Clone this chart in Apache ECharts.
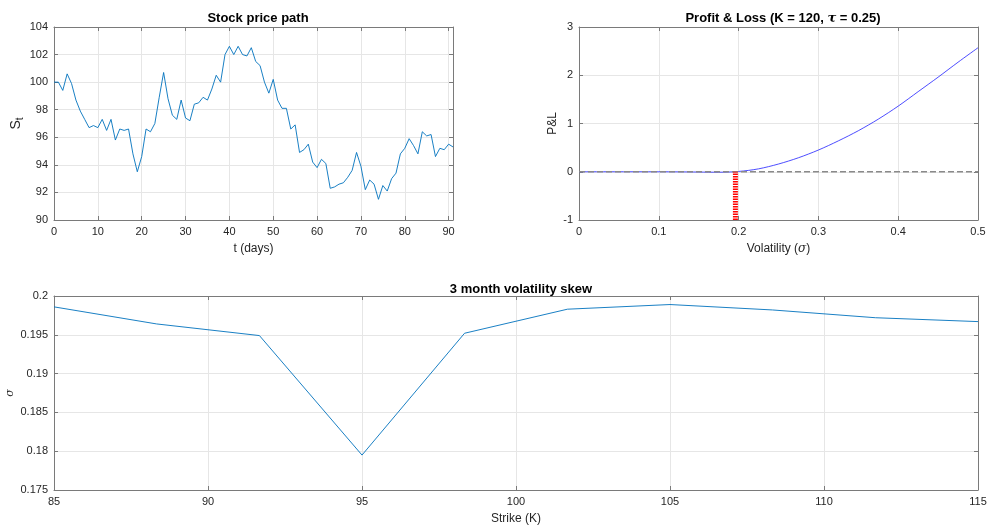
<!DOCTYPE html>
<html>
<head>
<meta charset="utf-8">
<script src="https://cdn.jsdelivr.net/npm/echarts/dist/echarts.min.js"></script>
<style>
  html, body { margin: 0; padding: 0; background: #fff; }
  #main { width: 988px; height: 529px; }
</style>
</head>
<body>
<div id="main"></div>
<script>
'use strict'
// stock path, P&L vs volatility, volatility skew

// simulated stock price, one value per day (t = 0..91)
const stockPrice = [
    100.0, 100.0, 99.4, 100.6, 99.9, 98.7, 97.9, 97.3, 96.7, 96.85,
    96.7, 97.3, 96.5, 97.3, 95.8, 96.6, 96.5, 96.6, 94.8, 93.5,
    94.6, 96.6, 96.4, 97.0, 98.9, 100.7, 98.8, 97.6, 97.3, 98.7,
    97.4, 97.2, 98.4, 98.5, 98.9, 98.7, 99.5, 100.5, 100.0, 102.0,
    102.6, 102.0, 102.6, 102.0, 101.9, 102.5, 101.5, 101.2, 100.0, 99.2,
    100.2, 98.7, 98.1, 98.1, 96.6, 96.9, 94.9, 95.1, 95.5, 94.2,
    93.8, 94.4, 94.1, 92.3, 92.4, 92.6, 92.7, 93.1, 93.6, 94.9,
    93.9, 92.2, 92.9, 92.6, 91.5, 92.5, 92.1, 93.0, 93.4, 94.8,
    95.2, 95.9, 95.4, 94.8, 96.4, 96.1, 96.2, 94.6, 95.2, 95.1,
    95.5, 95.3
];

// P&L curve
const volGrid = [0, 0.025, 0.05, 0.075, 0.1, 0.125, 0.15, 0.175, 0.2, 0.225,
    0.25, 0.275, 0.3, 0.325, 0.35, 0.375, 0.4, 0.425, 0.45, 0.475, 0.5];
const pnl = [0, 0, 0, 0, 0, -0.002, -0.006, -0.01, 0.006, 0.06,
    0.16, 0.29, 0.45, 0.64, 0.85, 1.09, 1.36, 1.66, 1.96, 2.27, 2.57];
const zeroLineX = [0, 0.5];
const zeroLineY = [0, 0];
const breakEvenX = [0.196, 0.196];
const breakEvenY = [-1, 0];

// 3 month skew
const strikes = [85, 88.33, 91.67, 95, 98.33, 101.67, 105, 108.33, 111.67, 115];
const skewVol = [0.1986, 0.1964, 0.1949, 0.1795, 0.1952, 0.1983, 0.1989, 0.1982, 0.1972, 0.1967];

const FONT = 'Liberation Sans, Arial, sans-serif';
const TXT = '#262626';
const AXIS = '#7a7a7a';
const GRIDLINE = '#e6e6e6';

function pairs(xs, ys) {
    return xs.map(function (x, i) { return [x, ys[i]]; });
}

function mainAxis(gridIndex, pos, min, max, interval, extra) {
    let a = {
        type: 'value', gridIndex: gridIndex, position: pos,
        min: min, max: max, interval: interval,
        axisLine: { show: true, onZero: false, lineStyle: { color: AXIS, width: 1 } },
        axisTick: { show: true, inside: true, length: 4, lineStyle: { color: AXIS } },
        axisLabel: { color: TXT, fontSize: 11, fontFamily: FONT, margin: 6 },
        splitLine: { show: true, lineStyle: { color: GRIDLINE, width: 1 } },
        nameLocation: 'middle',
        nameMoveOverlap: false,
        nameTextStyle: { color: TXT, fontSize: 12, fontFamily: FONT }
    };
    return Object.assign(a, extra || {});
}

function mirrorAxis(gridIndex, pos, min, max, interval) {
    return {
        type: 'value', gridIndex: gridIndex, position: pos,
        min: min, max: max, interval: interval,
        axisLine: { show: true, onZero: false, lineStyle: { color: AXIS, width: 1 } },
        axisTick: { show: true, inside: true, length: 4, lineStyle: { color: AXIS } },
        axisLabel: { show: false },
        splitLine: { show: false }
    };
}

const chart = echarts.init(document.getElementById('main'));

const option = {
    backgroundColor: '#fff',
    animation: false,
    title: [
        {
            text: 'Stock price path', left: 253, top: 7, textAlign: 'center',
            textStyle: { fontSize: 13, fontWeight: 'bold', color: '#000', fontFamily: FONT }
        },
        {
            text: '{b|Profit & Loss (K = 120, }{t|τ}{b| = 0.25)}', left: 778, top: 7, textAlign: 'center',
            textStyle: {
                rich: {
                    b: { fontSize: 13, fontWeight: 'bold', color: '#000', fontFamily: FONT },
                    t: { fontSize: 13, fontStyle: 'italic', color: '#000', fontFamily: 'DejaVu Serif, serif' }
                }
            }
        },
        {
            text: '3 month volatility skew', left: 516, top: 278, textAlign: 'center',
            textStyle: { fontSize: 13, fontWeight: 'bold', color: '#000', fontFamily: FONT }
        }
    ],
    grid: [
        { left: 54, top: 27, width: 399, height: 193, outerBoundsMode: 'none', containLabel: false },
        { left: 579, top: 27, width: 399, height: 193, outerBoundsMode: 'none', containLabel: false },
        { left: 54, top: 296, width: 924, height: 194, outerBoundsMode: 'none', containLabel: false }
    ],
    xAxis: [
        mainAxis(0, 'bottom', 0, 91, 10, { name: 't (days)', nameGap: 23,
            axisLabel: { color: TXT, fontSize: 11, fontFamily: FONT, margin: 6, showMaxLabel: false } }),
        mainAxis(1, 'bottom', 0, 0.5, 0.1, {
            name: '{n|Volatility (}{s|σ}{n|)}', nameGap: 23,
            nameTextStyle: {
                rich: {
                    n: { color: TXT, fontSize: 12, fontFamily: FONT },
                    s: { color: TXT, fontSize: 12, fontStyle: 'italic', fontFamily: 'DejaVu Serif, serif' }
                }
            }
        }),
        mainAxis(2, 'bottom', 85, 115, 5, { name: 'Strike (K)', nameGap: 23 }),
        mirrorAxis(0, 'top', 0, 91, 10),
        mirrorAxis(1, 'top', 0, 0.5, 0.1),
        mirrorAxis(2, 'top', 85, 115, 5)
    ],
    yAxis: [
        mainAxis(0, 'left', 90, 104, 2, {
            name: '{s|S}{t|t}', nameGap: 29,
            nameTextStyle: {
                rich: {
                    s: { color: TXT, fontSize: 14, fontFamily: FONT, lineHeight: 18, verticalAlign: 'middle' },
                    t: { color: TXT, fontSize: 10, fontFamily: FONT, lineHeight: 18, verticalAlign: 'bottom', padding: [8, 0, 0, 0] }
                }
            }
        }),
        mainAxis(1, 'left', -1, 3, 1, { name: 'P&L', nameGap: 20 }),
        mainAxis(2, 'left', 0.175, 0.2, 0.005, {
            name: 'σ', nameGap: 38,
            nameTextStyle: { color: TXT, fontSize: 11, fontStyle: 'italic', fontFamily: 'DejaVu Serif, serif' }
        }),
        mirrorAxis(0, 'right', 90, 104, 2),
        mirrorAxis(1, 'right', -1, 3, 1),
        mirrorAxis(2, 'right', 0.175, 0.2, 0.005)
    ],
    series: [
        {
            type: 'line', xAxisIndex: 0, yAxisIndex: 0, showSymbol: false,
            data: stockPrice.map(function (v, i) { return [i, v]; }),
            lineStyle: { color: '#0072BD', width: 0.9 }
        },
        {
            type: 'line', xAxisIndex: 1, yAxisIndex: 1, showSymbol: false, smooth: 0.3,
            data: pairs(volGrid, pnl),
            lineStyle: { color: '#2020ff', width: 0.8 }
        },
        {
            type: 'line', xAxisIndex: 1, yAxisIndex: 1, showSymbol: false,
            data: pairs(zeroLineX, zeroLineY),
            lineStyle: { color: '#8a8a8a', width: 1.3, type: [6, 3] }
        },
        {
            type: 'line', xAxisIndex: 1, yAxisIndex: 1, showSymbol: false,
            data: pairs(breakEvenX, breakEvenY),
            lineStyle: { color: '#ff0000', width: 5, type: [1.5, 1] }
        },
        {
            type: 'line', xAxisIndex: 2, yAxisIndex: 2, showSymbol: false,
            data: pairs(strikes, skewVol),
            lineStyle: { color: '#0072BD', width: 0.9 }
        }
    ]
};

chart.setOption(option);
</script>
</body>
</html>
